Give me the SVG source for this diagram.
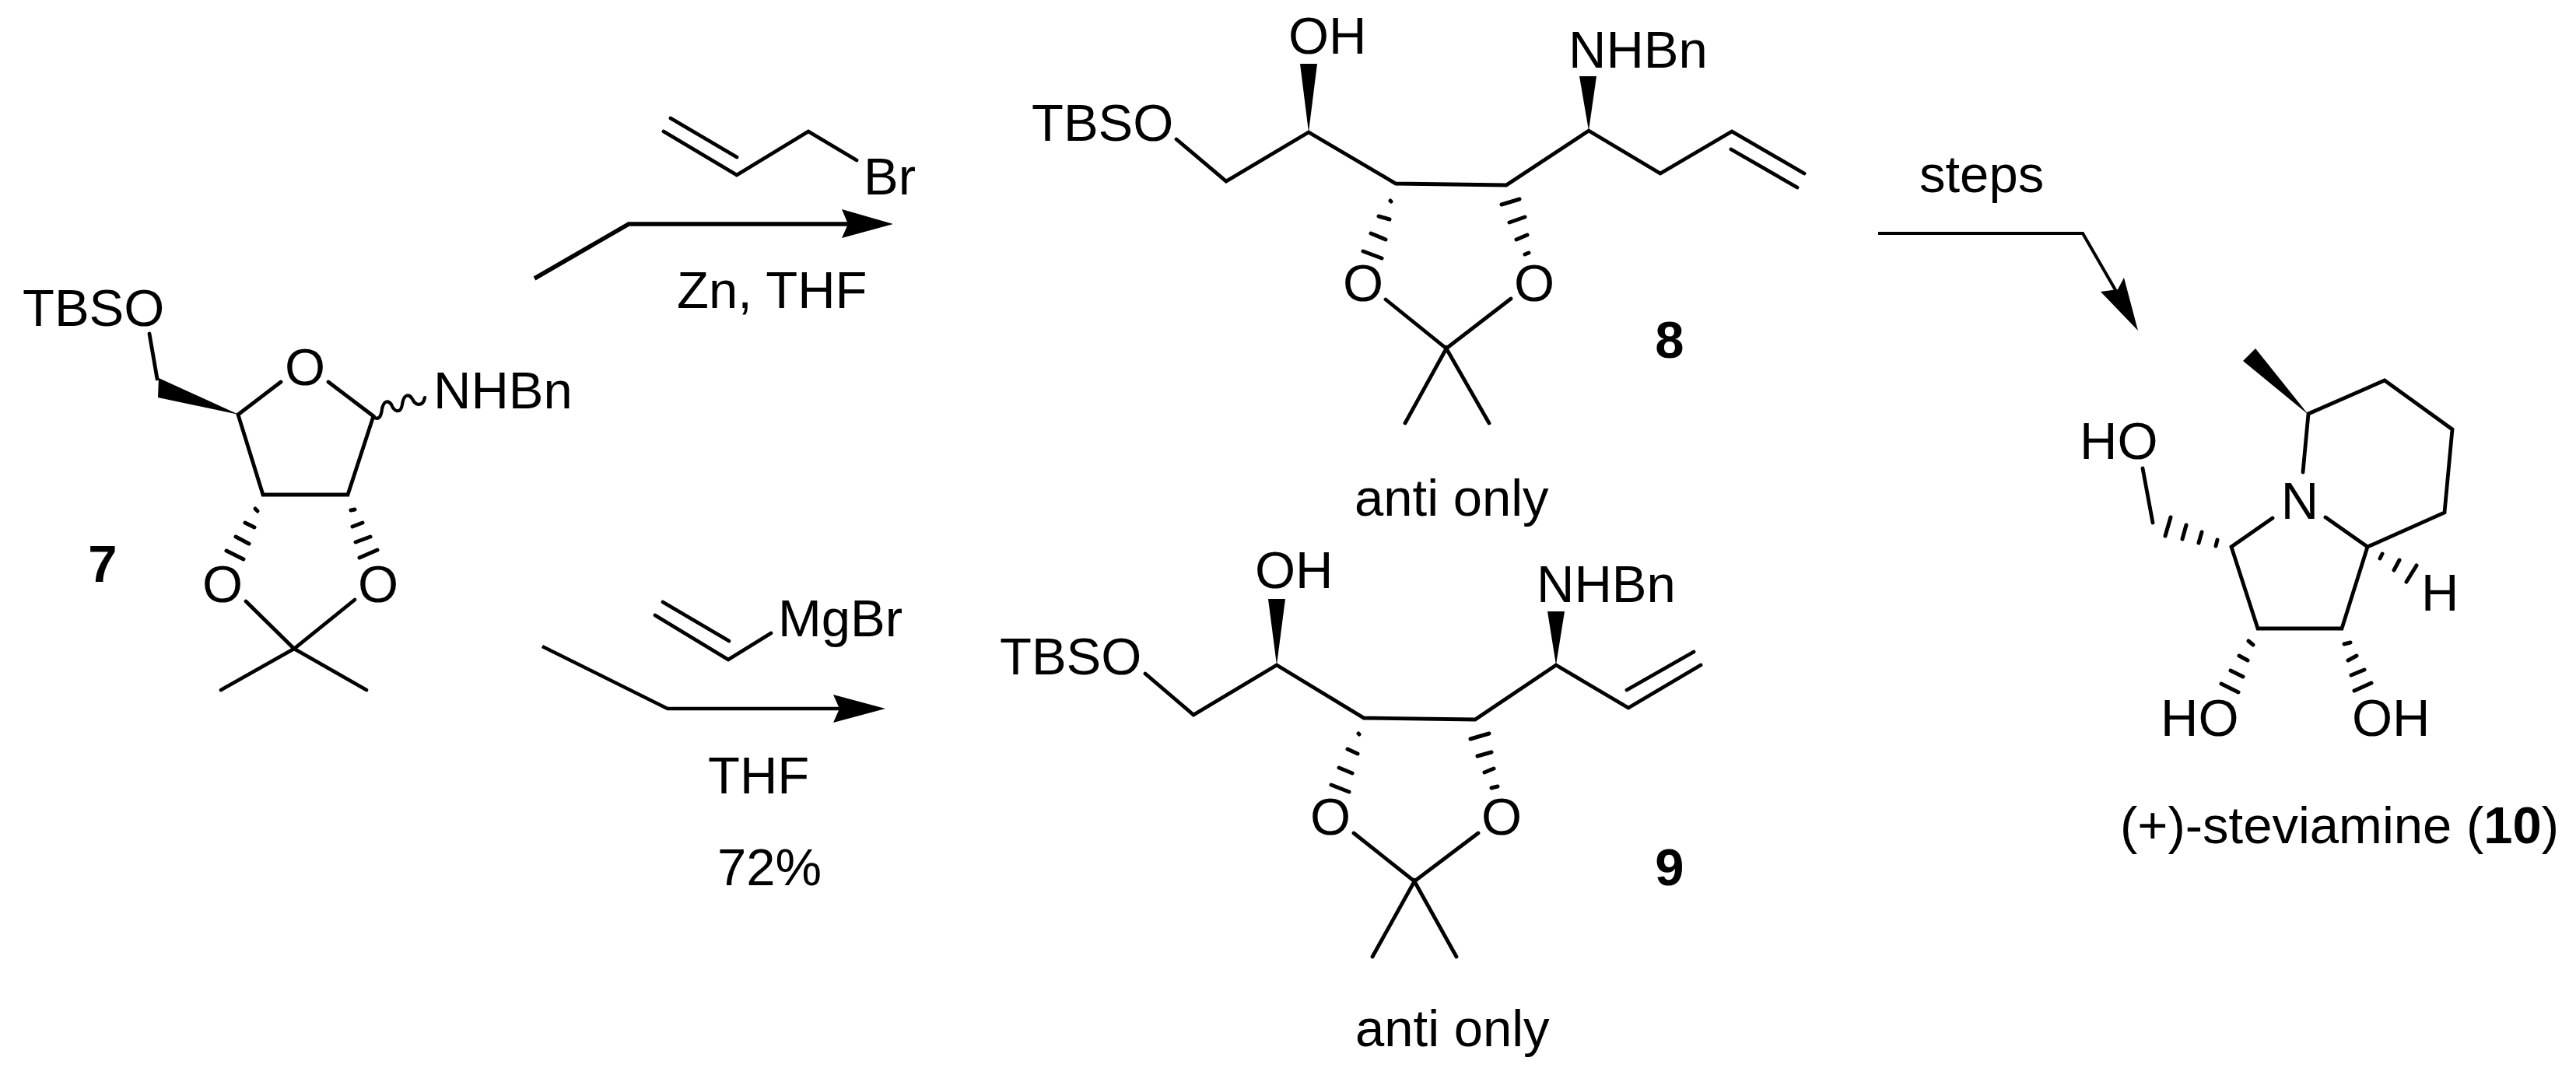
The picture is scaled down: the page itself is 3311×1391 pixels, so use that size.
<svg xmlns="http://www.w3.org/2000/svg" width="3311" height="1391" viewBox="0 0 3311 1391">
<style>
text{font-family:"Liberation Sans",Arial,sans-serif;font-size:67px;fill:#000}
.b{font-weight:700}
.m{text-anchor:middle}
.bond{fill:none;stroke:#000;stroke-width:4.8;stroke-linecap:round;stroke-linejoin:miter}
.hash{fill:none;stroke:#000;stroke-width:5;stroke-linecap:round}
.wavy{fill:none;stroke:#000;stroke-width:4.2;stroke-linecap:round}
.wedge{fill:#000;stroke:none}
.arr{fill:none;stroke:#000;stroke-linejoin:miter}
.head{fill:#000}
</style>
<rect width="3311" height="1391" fill="#fff"/>
<g id="connectors">
<path class="arr" stroke-width="5.5" d="M687,358L808,288H1095"/>
<path class="head" d="M1148,288L1082,269L1090,288L1082,306Z"/>
<path class="arr" stroke-width="4.5" d="M697,831L858,911H1085"/>
<path class="head" d="M1138,911L1071,893L1079,911L1071,929Z"/>
<path class="arr" stroke-width="4" d="M2414,300H2677L2722,378"/>
<path class="head" d="M2748,425L2730,357L2722,372L2700,375Z"/>
</g>
<g id="compound-7">
<text x="29" y="419">TBSO</text>
<path class="bond" d="M192,429L202,487"/>
<path class="wedge" d="M307,533L204,486L203,511Z"/>
<path class="bond" d="M361,491L306,533L338,636H447L480,535L422,491"/>
<text class="m" x="392" y="495">O</text>
<path class="wavy" d="M480,536C487,541 490,535 491,526C493,515 499,514 503,520C507,530 515,532 517,520C519,506 526,506 530,513C535,523 544,522 546,511"/>
<text x="557" y="525">NHBn</text>
<path class="hash" d="M328,654L331,657M315,672L327,678M303,690L320,699M291,708L313,719M451,656L456,655M453,677L466,672M457,697L476,690M462,717L485,707"/>
<text class="m" x="286" y="774">O</text>
<text class="m" x="486" y="774">O</text>
<path class="bond" d="M316,773L378,834L456,771M284,887L378,834L471,887"/>
<text class="b m" x="132" y="748">7</text>
</g>
<g id="reagent-allyl-bromide">
<path class="bond" d="M862,152L947,202M853,169L947,225L1039,169L1101,206"/>
<text x="1110" y="250">Br</text>
<text x="870" y="396">Zn, THF</text>
</g>
<g id="reagent-vinyl-grignard">
<path class="bond" d="M852,774L937,824M842,791L936,848L991,814"/>
<text x="1000" y="818">MgBr</text>
<text x="910" y="1020">THF</text>
<text x="922" y="1138">72%</text>
</g>
<g id="compound-8">
<text x="1326" y="181">TBSO</text>
<path class="bond" d="M1512,179L1576,233L1682,170L1794,236L1936,238L2042,168L2134,223L2226,169L2319,223M2225,192L2310,241"/>
<path class="wedge" d="M1682,170L1671,82H1693Z"/>
<text x="1656" y="69">OH</text>
<path class="wedge" d="M2042,168L2030,98H2052Z"/>
<text x="2016" y="87">NHBn</text>
<path class="hash" d="M1787,258L1788,259M1772,278L1786,282M1762,300L1781,308M1752,323L1776,332M1930,263L1953,256M1940,286L1960,279M1949,308L1963,302M1960,327L1965,325"/>
<text class="m" x="1752" y="387">O</text>
<text class="m" x="1972" y="387">O</text>
<path class="bond" d="M1781,385L1859,448L1942,384M1806,544L1859,448L1914,544"/>
<text class="b m" x="2146" y="460">8</text>
<text x="1741" y="663">anti only</text>
</g>
<g id="compound-9">
<text x="1285" y="867">TBSO</text>
<path class="bond" d="M1472,866L1534,919L1641,855L1753,923L1896,925L2000,855L2093,910L2186,855M2091,887L2177,838"/>
<path class="wedge" d="M1641,855L1630,770H1652Z"/>
<text x="1613" y="756">OH</text>
<path class="wedge" d="M2000,855L1989,786H2011Z"/>
<text x="1975" y="774">NHBn</text>
<path class="hash" d="M1746,943L1747,944M1732,963L1745,969M1721,987L1738,994M1711,1009L1734,1018M1890,950L1914,943M1899,972L1917,967M1908,993L1920,988M1917,1013L1925,1011"/>
<text class="m" x="1710" y="1073">O</text>
<text class="m" x="1930" y="1073">O</text>
<path class="bond" d="M1740,1071L1818,1133L1900,1071M1764,1230L1818,1133L1872,1230"/>
<text class="b m" x="2146" y="1138">9</text>
<text x="1742" y="1345">anti only</text>
</g>
<g id="compound-10">
<text x="2467" y="247">steps</text>
<path class="wedge" d="M2967,533L2899,448L2883,464Z"/>
<path class="bond" d="M2960,607L2967,532L3065,489L3152,552L3142,659L3043,703L2989,665M2921,666L2868,703L2902,808H3010L3043,703"/>
<text class="m" x="2956" y="667">N</text>
<text x="2673" y="590">HO</text>
<path class="bond" d="M2754,602L2767,672"/>
<path class="hash" d="M2850,694L2848,702M2830,684L2826,698M2810,675L2805,693M2790,665L2783,689M3062,712L3059,718M3084,720L3077,733M3106,727L3093,748M2890,824L2896,829M2878,843L2889,849M2867,862L2883,870M2855,879L2877,890M3013,828L3021,826M3018,849L3029,843M3022,868L3039,861M3026,888L3048,878"/>
<text x="3112" y="785">H</text>
<text x="2777" y="946">HO</text>
<text x="3023" y="946">OH</text>
<text x="2725" y="1084">(+)-steviamine (<tspan class="b">10</tspan>)</text>
</g>
</svg>
